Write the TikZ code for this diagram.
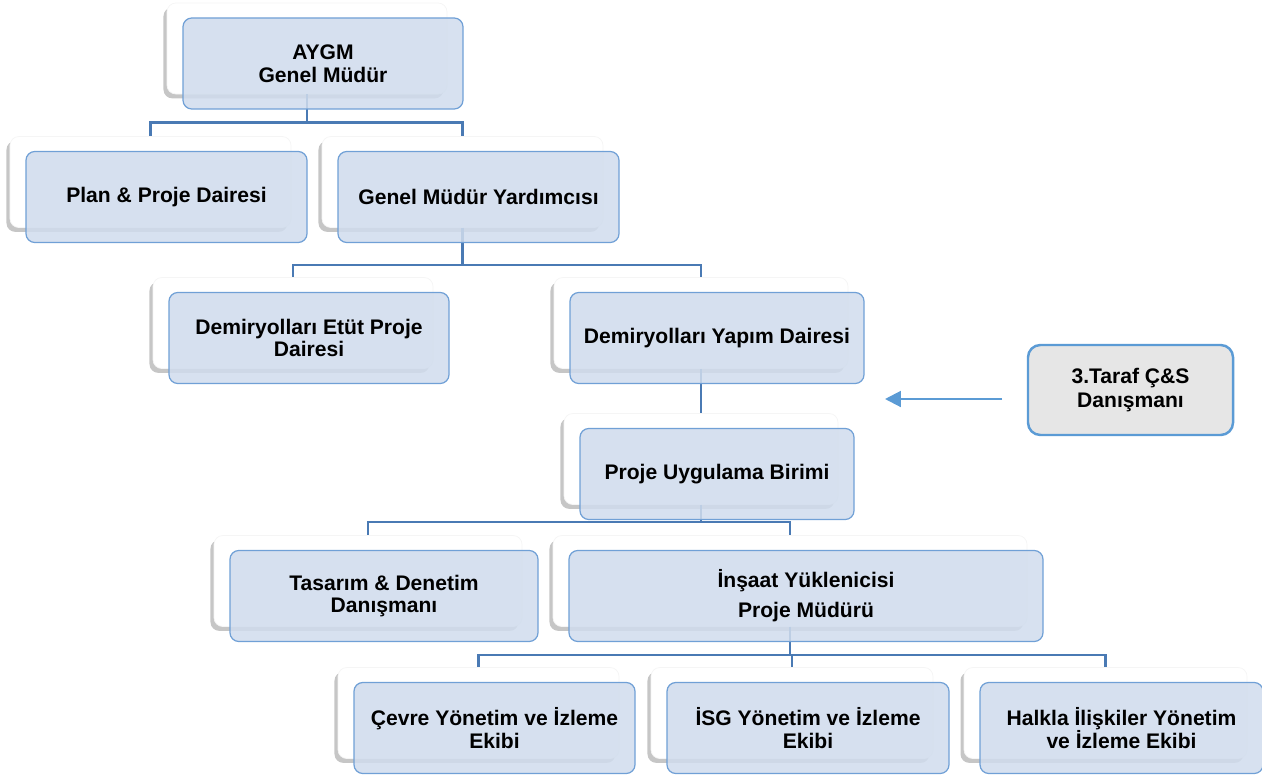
\documentclass[tikz,border=0pt]{standalone}
\usepackage{fontspec}
\setmainfont{Liberation Sans}
\usepackage{tikz}
\usetikzlibrary{shadows,arrows.meta}

\definecolor{boxblue}{RGB}{208,220,237}
\definecolor{edgeblue}{RGB}{112,160,214}
\definecolor{linkblue}{RGB}{74,122,180}
\definecolor{arrowblue}{RGB}{91,155,213}
\definecolor{greyfill}{RGB}{230,230,230}

\tikzset{
  back/.style={shape=rectangle, rounded corners=5pt, fill=white, draw=black!4, inner sep=0pt, minimum height=1.82cm,
    drop shadow={shadow xshift=-2pt, shadow yshift=-2.5pt, opacity=0.45}},
  front/.style={shape=rectangle, rounded corners=5pt, fill=boxblue, fill opacity=0.86, text opacity=1, draw=edgeblue,
    line width=0.7pt, inner sep=0pt, minimum height=1.82cm, align=center, font=\bfseries\fontsize{12}{13}\selectfont},
  extbox/.style={shape=rectangle, rounded corners=7pt, fill=greyfill, draw=arrowblue, line width=1.4pt, inner sep=0pt,
    minimum width=4.1cm, minimum height=1.8cm, align=center, font=\bfseries\fontsize{12}{13.5}\selectfont},
  link/.style={draw=linkblue, line width=1.5pt},
  okline/.style={draw=arrowblue, line width=1.2pt, -{Triangle[length=9pt,width=9pt]}}
}

\begin{document}
\begin{tikzpicture}
\useasboundingbox (0,0) rectangle (25.24,-15.56);

% white back boxes
\node[back, minimum width=5.6cm] (gm0) at (6.14,-0.97) {};
\node[back, minimum width=5.62cm] (plan0) at (3.01,-3.64) {};
\node[back, minimum width=5.62cm] (gmy0) at (9.25,-3.64) {};
\node[back, minimum width=5.6cm] (etut0) at (5.86,-6.46) {};
\node[back, minimum width=5.88cm] (yapim0) at (14.02,-6.46) {};
\node[back, minimum width=5.48cm] (pub0) at (14.02,-9.18) {};
\node[back, minimum width=6.16cm] (tas0) at (7.36,-11.62) {};
\node[back, minimum width=9.48cm] (ins0) at (15.80,-11.62) {};
\node[back, minimum width=5.62cm] (cevre0) at (9.57,-14.26) {};
\node[back, minimum width=5.64cm] (isg0) at (15.84,-14.26) {};
\node[back, minimum width=5.66cm] (halk0) at (22.11,-14.26) {};

% connectors
\draw[link] (gm0.south) -- ++(0,-0.56) -| (plan0.north);
\draw[link] (gm0.south) -- ++(0,-0.56) -| (gmy0.north);
\draw[link] (gmy0.south) -- ++(0,-0.74) -| (etut0.north);
\draw[link] (gmy0.south) -- ++(0,-0.74) -| (yapim0.north);
\draw[link] (yapim0.south) -- (pub0.north);
\draw[link] (pub0.south) -- ++(0,-0.34) -| (tas0.north);
\draw[link] (pub0.south) -- ++(0,-0.34) -| (ins0.north);
\draw[link] (ins0.south) -- ++(0,-0.56) -| (cevre0.north);
\draw[link] (ins0.south) -- ++(0,-0.56) -| (isg0.north);
\draw[link] (ins0.south) -- ++(0,-0.56) -| (halk0.north);

% blue front boxes
\node[front, minimum width=5.6cm] (gm) at ([shift={(0.32,-0.30)}]gm0) {AYGM\\Genel Müdür};
\node[front, minimum width=5.62cm] (plan) at ([shift={(0.32,-0.30)}]plan0) {Plan \& Proje Dairesi};
\node[front, minimum width=5.62cm] (gmy) at ([shift={(0.32,-0.30)}]gmy0) {Genel Müdür Yardımcısı};
\node[front, minimum width=5.6cm] (etut) at ([shift={(0.32,-0.30)}]etut0) {Demiryolları Etüt Proje\\Dairesi};
\node[front, minimum width=5.88cm] (yapim) at ([shift={(0.32,-0.30)}]yapim0) {Demiryolları Yapım Dairesi};
\node[front, minimum width=5.48cm] (pub) at ([shift={(0.32,-0.30)}]pub0) {Proje Uygulama Birimi};
\node[front, minimum width=6.16cm] (tas) at ([shift={(0.32,-0.30)}]tas0) {Tasarım \& Denetim\\Danışmanı};
\node[front, minimum width=9.48cm] (ins) at ([shift={(0.32,-0.30)}]ins0) {İnşaat Yüklenicisi\\[4pt]Proje Müdürü};
\node[front, minimum width=5.62cm] (cevre) at ([shift={(0.32,-0.30)}]cevre0) {Çevre Yönetim ve İzleme\\Ekibi};
\node[front, minimum width=5.64cm] (isg) at ([shift={(0.32,-0.30)}]isg0) {İSG Yönetim ve İzleme\\Ekibi};
\node[front, minimum width=5.66cm] (halk) at ([shift={(0.32,-0.30)}]halk0) {Halkla İlişkiler Yönetim\\ve İzleme Ekibi};

% third party consultant
\node[extbox] (ucuncu) at (22.61,-7.80) {3.Taraf Ç\&S\\Danışmanı};
\coordinate (okbas) at (20.04,-7.98);
\coordinate (okuc) at (17.70,-7.98);
\draw[okline] (okbas) -- (okuc);
\end{tikzpicture}
\end{document}
